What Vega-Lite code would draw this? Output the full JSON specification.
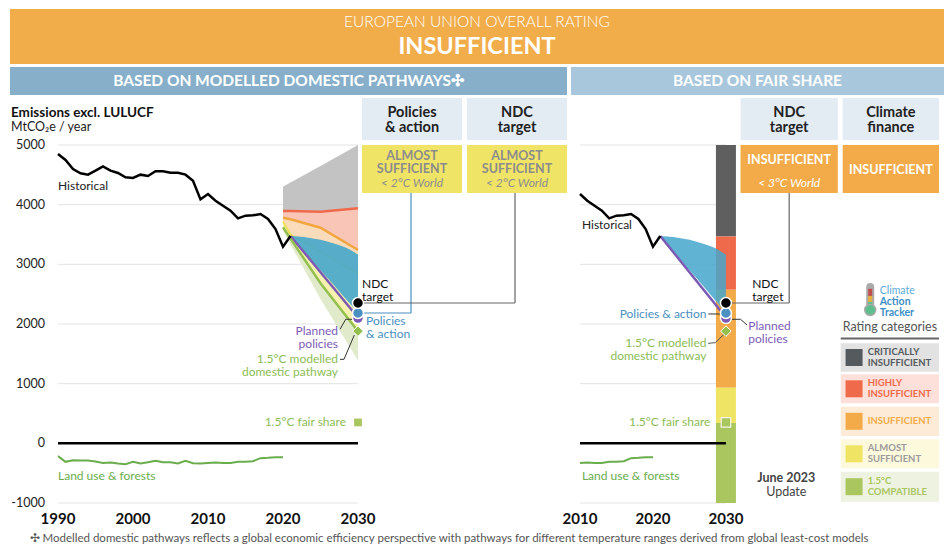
{
"$schema": "https://vega.github.io/schema/vega-lite/v6.json",
"padding": {"left": 10, "top": 9, "right": 0, "bottom": 0},
"background": "#ffffff",
"spacing": 3,
"config": {"view": {"stroke": null}, "font": "Lato"},
"datasets": {
"grid": [{"v": -1000}, {"v": 1000}, {"v": 2000}, {"v": 3000}, {"v": 4000}, {"v": 5000}],
"ylab": [{"v": -1000, "label": "-1000"}, {"v": 0, "label": "0"}, {"v": 1000, "label": "1000"}, {"v": 2000, "label": "2000"}, {"v": 3000, "label": "3000"}, {"v": 4000, "label": "4000"}, {"v": 5000, "label": "5000"}],
"xlab": [{"year": 1990}, {"year": 2000}, {"year": 2010}, {"year": 2020}, {"year": 2030}],
"hist": [{"year":1990,"v":4849},{"year":1991,"v":4749},{"year":1992,"v":4598},{"year":1993,"v":4525},{"year":1994,"v":4503},{"year":1995,"v":4570},{"year":1996,"v":4642},{"year":1997,"v":4570},{"year":1998,"v":4531},{"year":1999,"v":4458},{"year":2000,"v":4447},{"year":2001,"v":4503},{"year":2002,"v":4480},{"year":2003,"v":4559},{"year":2004,"v":4559},{"year":2005,"v":4536},{"year":2006,"v":4536},{"year":2007,"v":4503},{"year":2008,"v":4402},{"year":2009,"v":4089},{"year":2010,"v":4179},{"year":2011,"v":4067},{"year":2012,"v":3983},{"year":2013,"v":3899},{"year":2014,"v":3771},{"year":2015,"v":3816},{"year":2016,"v":3821},{"year":2017,"v":3844},{"year":2018,"v":3760},{"year":2019,"v":3592},{"year":2020,"v":3296},{"year":2021,"v":3475}],
"lulucf": [{"year":1990,"v":-215},{"year":1991,"v":-310},{"year":1992,"v":-283},{"year":1993,"v":-288},{"year":1994,"v":-288},{"year":1995,"v":-305},{"year":1996,"v":-328},{"year":1997,"v":-322},{"year":1998,"v":-339},{"year":1999,"v":-350},{"year":2000,"v":-310},{"year":2001,"v":-339},{"year":2002,"v":-316},{"year":2003,"v":-294},{"year":2004,"v":-316},{"year":2005,"v":-316},{"year":2006,"v":-339},{"year":2007,"v":-294},{"year":2008,"v":-333},{"year":2009,"v":-339},{"year":2010,"v":-328},{"year":2011,"v":-322},{"year":2012,"v":-328},{"year":2013,"v":-328},{"year":2014,"v":-310},{"year":2015,"v":-310},{"year":2016,"v":-299},{"year":2017,"v":-249},{"year":2018,"v":-243},{"year":2019,"v":-232},{"year":2020,"v":-232}],
"fan": [
{"year":2020,"ci":4300,"red":3894,"org":3782,"yel":3722,"grn":3621,"glo":3560},
{"year":2021,"ci":4370,"red":3892,"org":3755,"yel":3500,"grn":3430,"glo":3330},
{"year":2025,"ci":4650,"red":3882,"org":3614,"yel":3211,"grn":2682,"glo":2420},
{"year":2030,"ci":5000,"red":3939,"org":3240,"yel":2850,"grn":1880,"glo":1390}],
"pol": [
{"year":2021,"lo":3475,"hi":3475},
{"year":2023,"lo":3190,"hi":3455},
{"year":2025,"lo":2900,"hi":3410},
{"year":2027,"lo":2620,"hi":3340},
{"year":2029,"lo":2330,"hi":3240},
{"year":2030,"lo":2190,"hi":3160}],
"planned": [{"year":2021,"v":3475},{"year":2030,"v":2110}],
"bar": [
{"cat":"Critically insufficient","lo":3467,"hi":5000},
{"cat":"Highly insufficient","lo":2575,"hi":3467},
{"cat":"Insufficient","lo":933,"hi":2575},
{"cat":"Almost sufficient","lo":340,"hi":933},
{"cat":"1.5°C compatible","lo":-1000,"hi":340}]
},
"vconcat": [
{
"width": 934, "height": 55,
"view": {"fill": "#f2ad4b", "stroke": null},
"layer": [
{"data": {"values": [{"line": "a", "t": "EUROPEAN UNION OVERALL RATING"}]},
 "mark": {"type": "text", "color": "#ffffff", "fontSize": 15.5, "fontWeight": 300},
 "encoding": {"y": {"field": "line", "type": "nominal", "axis": null, "scale": {"type": "band", "domain": ["a", "b"], "paddingInner": 0.2, "paddingOuter": 0.2, "align": 0.25}}, "text": {"field": "t"}}},
{"data": {"values": [{"line": "b", "t": "INSUFFICIENT"}]},
 "mark": {"type": "text", "color": "#ffffff", "fontSize": 23.5, "fontWeight": "bold"},
 "encoding": {"y": {"field": "line", "type": "nominal", "axis": null}, "text": {"field": "t"}}}
]
},
{
"hconcat": [
{"width": 557, "height": 28, "view": {"fill": "#87afca", "stroke": null},
 "data": {"values": [{"t": "BASED ON MODELLED DOMESTIC PATHWAYS✣"}]},
 "mark": {"type": "text", "color": "#ffffff", "fontSize": 15.5, "fontWeight": "bold"},
 "encoding": {"text": {"field": "t"}}},
{"width": 373, "height": 28, "view": {"fill": "#a8c7dc", "stroke": null},
 "data": {"values": [{"t": "BASED ON FAIR SHARE"}]},
 "mark": {"type": "text", "color": "#ffffff", "fontSize": 15.5, "fontWeight": "bold"},
 "encoding": {"text": {"field": "t"}}}
],
"spacing": 4
},
{
"hconcat": [
{
"width": 557, "height": 405,
"layer": [
{"data": {"name": "grid"}, "mark": {"type": "rule", "color": "#e3e3e3", "strokeWidth": 1},
 "encoding": {
  "x": {"datum": 1990, "type": "quantitative", "scale": {"domain": [1983.6, 2057.8667], "nice": false, "zero": false}, "axis": null},
  "x2": {"datum": 2030},
  "y": {"field": "v", "type": "quantitative", "scale": {"domain": [-1000, 5787.7], "nice": false, "zero": false}, "axis": null}}},
{"data": {"name": "ylab"}, "mark": {"type": "text", "align": "right", "fontSize": 12.5, "color": "#222222"},
 "encoding": {"x": {"datum": 1988.267, "type": "quantitative", "axis": null}, "y": {"field": "v", "type": "quantitative", "axis": null}, "text": {"field": "label"}}},
{"data": {"name": "xlab"}, "mark": {"type": "text", "fontSize": 15, "fontWeight": "bold", "color": "#111111"},
 "encoding": {"x": {"field": "year", "type": "quantitative", "axis": null}, "y": {"datum": -1268.2, "type": "quantitative", "axis": null}, "text": {"field": "year", "type": "quantitative", "format": "d"}}},
{"data": {"name": "fan"}, "mark": {"type": "area", "color": "#c3c3c3", "opacity": 1},
 "encoding": {"x": {"field": "year", "type": "quantitative", "axis": null}, "y": {"field": "red", "type": "quantitative", "axis": null}, "y2": {"field": "ci"}}},
{"data": {"name": "fan"}, "mark": {"type": "area", "color": "#f9c5b7", "opacity": 1},
 "encoding": {"x": {"field": "year", "type": "quantitative", "axis": null}, "y": {"field": "org", "type": "quantitative", "axis": null}, "y2": {"field": "red"}}},
{"data": {"name": "fan"}, "mark": {"type": "area", "color": "#fbdcba", "opacity": 1},
 "encoding": {"x": {"field": "year", "type": "quantitative", "axis": null}, "y": {"field": "yel", "type": "quantitative", "axis": null}, "y2": {"field": "org"}}},
{"data": {"name": "fan"}, "mark": {"type": "area", "color": "#f8f2b0", "opacity": 1},
 "encoding": {"x": {"field": "year", "type": "quantitative", "axis": null}, "y": {"field": "grn", "type": "quantitative", "axis": null}, "y2": {"field": "yel"}}},
{"data": {"name": "fan"}, "mark": {"type": "area", "color": "#e1ebcc", "opacity": 1},
 "encoding": {"x": {"field": "year", "type": "quantitative", "axis": null}, "y": {"field": "glo", "type": "quantitative", "axis": null}, "y2": {"field": "grn"}}},
{"data": {"name": "fan"}, "mark": {"type": "line", "color": "#ef6a4b", "strokeWidth": 2.5},
 "encoding": {"x": {"field": "year", "type": "quantitative", "axis": null}, "y": {"field": "red", "type": "quantitative", "axis": null}}},
{"data": {"name": "fan"}, "mark": {"type": "line", "color": "#f2a640", "strokeWidth": 2.5},
 "encoding": {"x": {"field": "year", "type": "quantitative", "axis": null}, "y": {"field": "org", "type": "quantitative", "axis": null}}},
{"data": {"name": "fan"}, "mark": {"type": "line", "color": "#efe05a", "strokeWidth": 2},
 "encoding": {"x": {"field": "year", "type": "quantitative", "axis": null}, "y": {"field": "yel", "type": "quantitative", "axis": null}}},
{"data": {"name": "pol"}, "mark": {"type": "area", "color": "#45a6cb", "opacity": 0.9, "interpolate": "monotone"},
 "encoding": {"x": {"field": "year", "type": "quantitative", "axis": null}, "y": {"field": "lo", "type": "quantitative", "axis": null}, "y2": {"field": "hi"}}},
{"data": {"name": "planned"}, "mark": {"type": "line", "color": "#7c5ab4", "strokeWidth": 2.5},
 "encoding": {"x": {"field": "year", "type": "quantitative", "axis": null}, "y": {"field": "v", "type": "quantitative", "axis": null}}},
{"data": {"name": "fan"}, "mark": {"type": "line", "color": "#93bf4e", "strokeWidth": 2.5},
 "encoding": {"x": {"field": "year", "type": "quantitative", "axis": null}, "y": {"field": "grn", "type": "quantitative", "axis": null}}},
{"data": {"name": "hist"}, "mark": {"type": "line", "color": "#000000", "strokeWidth": 2.5},
 "encoding": {"x": {"field": "year", "type": "quantitative", "axis": null}, "y": {"field": "v", "type": "quantitative", "axis": null}}},
{"data": {"name": "lulucf"}, "mark": {"type": "line", "color": "#6aad4c", "strokeWidth": 2},
 "encoding": {"x": {"field": "year", "type": "quantitative", "axis": null}, "y": {"field": "v", "type": "quantitative", "axis": null}}},
{"data": {"values": [{}]}, "mark": {"type": "rule", "color": "#000000", "strokeWidth": 2.5},
 "encoding": {"x": {"datum": 1990, "type": "quantitative", "axis": null}, "x2": {"datum": 2030}, "y": {"datum": 0, "type": "quantitative", "axis": null}}},
{"data": {"values": [{}]}, "mark": {"type": "rule", "color": "#4a90c0", "strokeWidth": 1.2},
 "encoding": {"x": {"datum": 2030, "type": "quantitative", "axis": null}, "x2": {"datum": 2037.067}, "y": {"datum": 2184, "type": "quantitative", "axis": null}}},
{"data": {"values": [{}]}, "mark": {"type": "rule", "color": "#4a90c0", "strokeWidth": 1.2},
 "encoding": {"x": {"datum": 2037.067, "type": "quantitative", "axis": null}, "y": {"datum": 2184, "type": "quantitative", "axis": null}, "y2": {"datum": 4195.5}}},
{"data": {"values": [{}]}, "mark": {"type": "rule", "color": "#666666", "strokeWidth": 1.2},
 "encoding": {"x": {"datum": 2030, "type": "quantitative", "axis": null}, "x2": {"datum": 2050.933}, "y": {"datum": 2352, "type": "quantitative", "axis": null}}},
{"data": {"values": [{}]}, "mark": {"type": "rule", "color": "#666666", "strokeWidth": 1.2},
 "encoding": {"x": {"datum": 2050.933, "type": "quantitative", "axis": null}, "y": {"datum": 2352, "type": "quantitative", "axis": null}, "y2": {"datum": 4195.5}}},
{"data": {"values": [{}]}, "mark": {"type": "rule", "color": "#333333", "strokeWidth": 1},
 "encoding": {"x": {"datum": 2027.6, "type": "quantitative", "axis": null}, "x2": {"datum": 2028.36}, "y": {"datum": 1911, "type": "quantitative", "axis": null}, "y2": {"datum": 2079}}},
{"data": {"values": [{}]}, "mark": {"type": "rule", "color": "#333333", "strokeWidth": 1},
 "encoding": {"x": {"datum": 2028.36, "type": "quantitative", "axis": null}, "x2": {"datum": 2029.24}, "y": {"datum": 2079, "type": "quantitative", "axis": null}}},
{"data": {"values": [{}]}, "mark": {"type": "rule", "color": "#333333", "strokeWidth": 1},
 "encoding": {"x": {"datum": 2027.6, "type": "quantitative", "axis": null}, "x2": {"datum": 2028.133}, "y": {"datum": 1408, "type": "quantitative", "axis": null}}},
{"data": {"values": [{}]}, "mark": {"type": "rule", "color": "#333333", "strokeWidth": 1},
 "encoding": {"x": {"datum": 2028.133, "type": "quantitative", "axis": null}, "x2": {"datum": 2029.507}, "y": {"datum": 1408, "type": "quantitative", "axis": null}, "y2": {"datum": 1815}}},
{"data": {"values": [{"year": 2030, "v": 2100}]}, "mark": {"type": "point", "shape": "circle", "filled": true, "size": 120, "color": "#7c5ab4", "stroke": "#ffffff", "strokeWidth": 1.5, "opacity": 1},
 "encoding": {"x": {"field": "year", "type": "quantitative", "axis": null}, "y": {"field": "v", "type": "quantitative", "axis": null}}},
{"data": {"values": [{"year": 2030, "v": 2184}]}, "mark": {"type": "point", "shape": "circle", "filled": true, "size": 120, "color": "#4a90c0", "stroke": "#ffffff", "strokeWidth": 1.5, "opacity": 1},
 "encoding": {"x": {"field": "year", "type": "quantitative", "axis": null}, "y": {"field": "v", "type": "quantitative", "axis": null}}},
{"data": {"values": [{"year": 2030, "v": 2352}]}, "mark": {"type": "point", "shape": "circle", "filled": true, "size": 120, "color": "#000000", "stroke": "#ffffff", "strokeWidth": 1.5, "opacity": 1},
 "encoding": {"x": {"field": "year", "type": "quantitative", "axis": null}, "y": {"field": "v", "type": "quantitative", "axis": null}}},
{"data": {"values": [{"year": 2030, "v": 1880}]}, "mark": {"type": "point", "shape": "diamond", "filled": true, "size": 110, "color": "#93bf4e", "stroke": "#ffffff", "strokeWidth": 1, "opacity": 1},
 "encoding": {"x": {"field": "year", "type": "quantitative", "axis": null}, "y": {"field": "v", "type": "quantitative", "axis": null}}},
{"data": {"values": [{"year": 2030, "v": 350}]}, "mark": {"type": "point", "shape": "square", "filled": true, "size": 60, "color": "#a9c65f", "opacity": 1},
 "encoding": {"x": {"field": "year", "type": "quantitative", "axis": null}, "y": {"field": "v", "type": "quantitative", "axis": null}}},
{"data": {"values": [{}]}, "mark": {"type": "rect", "color": "#e3ebf3"},
 "encoding": {"x": {"datum": 2030.533, "type": "quantitative", "axis": null}, "x2": {"datum": 2043.867}, "y": {"datum": 5787.7, "type": "quantitative", "axis": null}, "y2": {"datum": 5083.8}}},
{"data": {"values": [{}]}, "mark": {"type": "rect", "color": "#e3ebf3"},
 "encoding": {"x": {"datum": 2044.533, "type": "quantitative", "axis": null}, "x2": {"datum": 2057.867}, "y": {"datum": 5787.7, "type": "quantitative", "axis": null}, "y2": {"datum": 5083.8}}},
{"data": {"values": [{"t": "Policies\n& action"}]}, "mark": {"type": "text", "fontSize": 14.5, "fontWeight": "bold", "color": "#222222", "lineBreak": "\n", "lineHeight": 15},
 "encoding": {"x": {"datum": 2037.2, "type": "quantitative", "axis": null}, "y": {"datum": 5536.3, "type": "quantitative", "axis": null}, "text": {"field": "t"}}},
{"data": {"values": [{"t": "NDC\ntarget"}]}, "mark": {"type": "text", "fontSize": 14.5, "fontWeight": "bold", "color": "#222222", "lineBreak": "\n", "lineHeight": 15},
 "encoding": {"x": {"datum": 2051.2, "type": "quantitative", "axis": null}, "y": {"datum": 5536.3, "type": "quantitative", "axis": null}, "text": {"field": "t"}}},
{"data": {"values": [{}]}, "mark": {"type": "rect", "color": "#f0e466"},
 "encoding": {"x": {"datum": 2030.533, "type": "quantitative", "axis": null}, "x2": {"datum": 2043.867}, "y": {"datum": 5000, "type": "quantitative", "axis": null}, "y2": {"datum": 4195.5}}},
{"data": {"values": [{}]}, "mark": {"type": "rect", "color": "#f0e466"},
 "encoding": {"x": {"datum": 2044.533, "type": "quantitative", "axis": null}, "x2": {"datum": 2057.867}, "y": {"datum": 5000, "type": "quantitative", "axis": null}, "y2": {"datum": 4195.5}}},
{"data": {"values": [{"t": "ALMOST\nSUFFICIENT"}]}, "mark": {"type": "text", "fontSize": 12.5, "fontWeight": "bold", "color": "#8c8c8c", "lineBreak": "\n", "lineHeight": 13},
 "encoding": {"x": {"datum": 2037.2, "type": "quantitative", "axis": null}, "y": {"datum": 4815.6, "type": "quantitative", "axis": null}, "text": {"field": "t"}}},
{"data": {"values": [{"t": "ALMOST\nSUFFICIENT"}]}, "mark": {"type": "text", "fontSize": 12.5, "fontWeight": "bold", "color": "#8c8c8c", "lineBreak": "\n", "lineHeight": 13},
 "encoding": {"x": {"datum": 2051.2, "type": "quantitative", "axis": null}, "y": {"datum": 4815.6, "type": "quantitative", "axis": null}, "text": {"field": "t"}}},
{"data": {"values": [{"t": "< 2°C World"}]}, "mark": {"type": "text", "fontSize": 12, "fontStyle": "italic", "color": "#8c8c8c"},
 "encoding": {"x": {"datum": 2037.2, "type": "quantitative", "axis": null}, "y": {"datum": 4363.1, "type": "quantitative", "axis": null}, "text": {"field": "t"}}},
{"data": {"values": [{"t": "< 2°C World"}]}, "mark": {"type": "text", "fontSize": 12, "fontStyle": "italic", "color": "#8c8c8c"},
 "encoding": {"x": {"datum": 2051.2, "type": "quantitative", "axis": null}, "y": {"datum": 4363.1, "type": "quantitative", "axis": null}, "text": {"field": "t"}}},
{"data": {"values": [{"t": "Emissions excl. LULUCF"}]}, "mark": {"type": "text", "align": "left", "fontSize": 13.5, "fontWeight": "bold", "color": "#111111"},
 "encoding": {"x": {"datum": 1983.733, "type": "quantitative", "axis": null}, "y": {"datum": 5536.3, "type": "quantitative", "axis": null}, "text": {"field": "t"}}},
{"data": {"values": [{"t": "MtCO₂e / year"}]}, "mark": {"type": "text", "align": "left", "fontSize": 12.5, "color": "#222222"},
 "encoding": {"x": {"datum": 1983.733, "type": "quantitative", "axis": null}, "y": {"datum": 5301.7, "type": "quantitative", "axis": null}, "text": {"field": "t"}}},
{"data": {"values": [{"t": "Historical"}]}, "mark": {"type": "text", "align": "left", "fontSize": 12, "color": "#222222"},
 "encoding": {"x": {"datum": 1990, "type": "quantitative", "axis": null}, "y": {"datum": 4313.9, "type": "quantitative", "axis": null}, "text": {"field": "t"}}},
{"data": {"values": [{"t": "NDC\ntarget"}]}, "mark": {"type": "text", "align": "left", "fontSize": 12, "color": "#111111", "lineBreak": "\n", "lineHeight": 13},
 "encoding": {"x": {"datum": 2030.533, "type": "quantitative", "axis": null}, "y": {"datum": 2670.4, "type": "quantitative", "axis": null}, "text": {"field": "t"}}},
{"data": {"values": [{"t": "Policies\n& action"}]}, "mark": {"type": "text", "align": "left", "fontSize": 12, "color": "#4a90c0", "lineBreak": "\n", "lineHeight": 13},
 "encoding": {"x": {"datum": 2031.067, "type": "quantitative", "axis": null}, "y": {"datum": 2050.3, "type": "quantitative", "axis": null}, "text": {"field": "t"}}},
{"data": {"values": [{"t": "Planned\npolicies"}]}, "mark": {"type": "text", "align": "right", "fontSize": 12, "color": "#7d5bb5", "lineBreak": "\n", "lineHeight": 13},
 "encoding": {"x": {"datum": 2027.333, "type": "quantitative", "axis": null}, "y": {"datum": 1882.7, "type": "quantitative", "axis": null}, "text": {"field": "t"}}},
{"data": {"values": [{"t": "1.5°C modelled\ndomestic pathway"}]}, "mark": {"type": "text", "align": "right", "fontSize": 12, "color": "#8cbd55", "lineBreak": "\n", "lineHeight": 13},
 "encoding": {"x": {"datum": 2027.333, "type": "quantitative", "axis": null}, "y": {"datum": 1413.4, "type": "quantitative", "axis": null}, "text": {"field": "t"}}},
{"data": {"values": [{"t": "1.5°C fair share"}]}, "mark": {"type": "text", "align": "right", "fontSize": 12, "color": "#8cbd55"},
 "encoding": {"x": {"datum": 2028.4, "type": "quantitative", "axis": null}, "y": {"datum": 357.5, "type": "quantitative", "axis": null}, "text": {"field": "t"}}},
{"data": {"values": [{"t": "Land use & forests"}]}, "mark": {"type": "text", "align": "left", "fontSize": 12, "color": "#6aad4c"},
 "encoding": {"x": {"datum": 1990, "type": "quantitative", "axis": null}, "y": {"datum": -547.5, "type": "quantitative", "axis": null}, "text": {"field": "t"}}}
]
},
{
"width": 369, "height": 405,
"layer": [
{"data": {"name": "grid"}, "mark": {"type": "rule", "color": "#e3e3e3", "strokeWidth": 1},
 "encoding": {
  "x": {"datum": 2010, "type": "quantitative", "scale": {"domain": [2010, 2059.2], "nice": false, "zero": false}, "axis": null},
  "x2": {"datum": 2030},
  "y": {"field": "v", "type": "quantitative", "scale": {"domain": [-1000, 5787.7], "nice": false, "zero": false}, "axis": null}}},
{"data": {"name": "xlab"}, "transform": [{"filter": "datum.year >= 2010"}], "mark": {"type": "text", "fontSize": 15, "fontWeight": "bold", "color": "#111111"},
 "encoding": {"x": {"field": "year", "type": "quantitative", "axis": null}, "y": {"datum": -1268.2, "type": "quantitative", "axis": null}, "text": {"field": "year", "type": "quantitative", "format": "d"}}},
{"data": {"name": "bar"}, "mark": {"type": "bar", "size": 20},
 "encoding": {"x": {"datum": 2030, "type": "quantitative", "axis": null}, "y": {"field": "lo", "type": "quantitative", "axis": null}, "y2": {"field": "hi"},
  "color": {"field": "cat", "type": "nominal", "legend": null, "scale": {"domain": ["Critically insufficient", "Highly insufficient", "Insufficient", "Almost sufficient", "1.5°C compatible"], "range": ["#5f5f5f", "#ef6a4b", "#f2ab48", "#f0e464", "#a9c65f"]}}}},
{"data": {"name": "pol"}, "mark": {"type": "area", "color": "#45a6cb", "opacity": 0.85, "interpolate": "monotone"},
 "encoding": {"x": {"field": "year", "type": "quantitative", "axis": null}, "y": {"field": "lo", "type": "quantitative", "axis": null}, "y2": {"field": "hi"}}},
{"data": {"name": "planned"}, "mark": {"type": "line", "color": "#7c5ab4", "strokeWidth": 2.5},
 "encoding": {"x": {"field": "year", "type": "quantitative", "axis": null}, "y": {"field": "v", "type": "quantitative", "axis": null}}},
{"data": {"name": "hist"}, "transform": [{"filter": "datum.year >= 2010"}], "mark": {"type": "line", "color": "#000000", "strokeWidth": 2.5},
 "encoding": {"x": {"field": "year", "type": "quantitative", "axis": null}, "y": {"field": "v", "type": "quantitative", "axis": null}}},
{"data": {"name": "lulucf"}, "transform": [{"filter": "datum.year >= 2010"}], "mark": {"type": "line", "color": "#6aad4c", "strokeWidth": 2},
 "encoding": {"x": {"field": "year", "type": "quantitative", "axis": null}, "y": {"field": "v", "type": "quantitative", "axis": null}}},
{"data": {"values": [{}]}, "mark": {"type": "rule", "color": "#000000", "strokeWidth": 2.5},
 "encoding": {"x": {"datum": 2010, "type": "quantitative", "axis": null}, "x2": {"datum": 2030}, "y": {"datum": 0, "type": "quantitative", "axis": null}}},
{"data": {"values": [{}]}, "mark": {"type": "rule", "color": "#666666", "strokeWidth": 1.2},
 "encoding": {"x": {"datum": 2030, "type": "quantitative", "axis": null}, "x2": {"datum": 2038.667}, "y": {"datum": 2352, "type": "quantitative", "axis": null}}},
{"data": {"values": [{}]}, "mark": {"type": "rule", "color": "#666666", "strokeWidth": 1.2},
 "encoding": {"x": {"datum": 2038.667, "type": "quantitative", "axis": null}, "y": {"datum": 2352, "type": "quantitative", "axis": null}, "y2": {"datum": 4195.5}}},
{"data": {"values": [{}]}, "mark": {"type": "rule", "color": "#333333", "strokeWidth": 1},
 "encoding": {"x": {"datum": 2027.6, "type": "quantitative", "axis": null}, "x2": {"datum": 2029.333}, "y": {"datum": 2168, "type": "quantitative", "axis": null}}},
{"data": {"values": [{}]}, "mark": {"type": "rule", "color": "#333333", "strokeWidth": 1},
 "encoding": {"x": {"datum": 2030.44, "type": "quantitative", "axis": null}, "x2": {"datum": 2032}, "y": {"datum": 2079, "type": "quantitative", "axis": null}}},
{"data": {"values": [{}]}, "mark": {"type": "rule", "color": "#333333", "strokeWidth": 1},
 "encoding": {"x": {"datum": 2032, "type": "quantitative", "axis": null}, "x2": {"datum": 2032.893}, "y": {"datum": 2079, "type": "quantitative", "axis": null}, "y2": {"datum": 1983}}},
{"data": {"values": [{}]}, "mark": {"type": "rule", "color": "#555555", "strokeWidth": 1},
 "encoding": {"x": {"datum": 2027.56, "type": "quantitative", "axis": null}, "x2": {"datum": 2028.533}, "y": {"datum": 1676, "type": "quantitative", "axis": null}, "y2": {"datum": 1687}}},
{"data": {"values": [{}]}, "mark": {"type": "rule", "color": "#555555", "strokeWidth": 1},
 "encoding": {"x": {"datum": 2028.533, "type": "quantitative", "axis": null}, "x2": {"datum": 2029.773}, "y": {"datum": 1687, "type": "quantitative", "axis": null}, "y2": {"datum": 1832}}},
{"data": {"values": [{"year": 2030, "v": 2100}]}, "mark": {"type": "point", "shape": "circle", "filled": true, "size": 120, "color": "#7c5ab4", "stroke": "#ffffff", "strokeWidth": 1.5, "opacity": 1},
 "encoding": {"x": {"field": "year", "type": "quantitative", "axis": null}, "y": {"field": "v", "type": "quantitative", "axis": null}}},
{"data": {"values": [{"year": 2030, "v": 2184}]}, "mark": {"type": "point", "shape": "circle", "filled": true, "size": 120, "color": "#4a90c0", "stroke": "#ffffff", "strokeWidth": 1.5, "opacity": 1},
 "encoding": {"x": {"field": "year", "type": "quantitative", "axis": null}, "y": {"field": "v", "type": "quantitative", "axis": null}}},
{"data": {"values": [{"year": 2030, "v": 2352}]}, "mark": {"type": "point", "shape": "circle", "filled": true, "size": 120, "color": "#000000", "stroke": "#ffffff", "strokeWidth": 1.5, "opacity": 1},
 "encoding": {"x": {"field": "year", "type": "quantitative", "axis": null}, "y": {"field": "v", "type": "quantitative", "axis": null}}},
{"data": {"values": [{"year": 2030, "v": 1880}]}, "mark": {"type": "point", "shape": "diamond", "filled": true, "size": 110, "color": "#93bf4e", "stroke": "#ffffff", "strokeWidth": 1, "opacity": 1},
 "encoding": {"x": {"field": "year", "type": "quantitative", "axis": null}, "y": {"field": "v", "type": "quantitative", "axis": null}}},
{"data": {"values": [{"year": 2030, "v": 350}]}, "mark": {"type": "point", "shape": "square", "filled": true, "size": 90, "color": "#a9c65f", "stroke": "#f4f4e8", "strokeWidth": 1.2, "opacity": 1},
 "encoding": {"x": {"field": "year", "type": "quantitative", "axis": null}, "y": {"field": "v", "type": "quantitative", "axis": null}}},
{"data": {"values": [{}]}, "mark": {"type": "rect", "color": "#e3ebf3"},
 "encoding": {"x": {"datum": 2032, "type": "quantitative", "axis": null}, "x2": {"datum": 2045.333}, "y": {"datum": 5787.7, "type": "quantitative", "axis": null}, "y2": {"datum": 5083.8}}},
{"data": {"values": [{}]}, "mark": {"type": "rect", "color": "#e3ebf3"},
 "encoding": {"x": {"datum": 2046, "type": "quantitative", "axis": null}, "x2": {"datum": 2059.2}, "y": {"datum": 5787.7, "type": "quantitative", "axis": null}, "y2": {"datum": 5083.8}}},
{"data": {"values": [{"t": "NDC\ntarget"}]}, "mark": {"type": "text", "fontSize": 14.5, "fontWeight": "bold", "color": "#222222", "lineBreak": "\n", "lineHeight": 15},
 "encoding": {"x": {"datum": 2038.667, "type": "quantitative", "axis": null}, "y": {"datum": 5536.3, "type": "quantitative", "axis": null}, "text": {"field": "t"}}},
{"data": {"values": [{"t": "Climate\nfinance"}]}, "mark": {"type": "text", "fontSize": 14.5, "fontWeight": "bold", "color": "#222222", "lineBreak": "\n", "lineHeight": 15},
 "encoding": {"x": {"datum": 2052.6, "type": "quantitative", "axis": null}, "y": {"datum": 5536.3, "type": "quantitative", "axis": null}, "text": {"field": "t"}}},
{"data": {"values": [{}]}, "mark": {"type": "rect", "color": "#f2ab48"},
 "encoding": {"x": {"datum": 2032, "type": "quantitative", "axis": null}, "x2": {"datum": 2045.333}, "y": {"datum": 5000, "type": "quantitative", "axis": null}, "y2": {"datum": 4195.5}}},
{"data": {"values": [{}]}, "mark": {"type": "rect", "color": "#f2ab48"},
 "encoding": {"x": {"datum": 2046, "type": "quantitative", "axis": null}, "x2": {"datum": 2059.2}, "y": {"datum": 5000, "type": "quantitative", "axis": null}, "y2": {"datum": 4195.5}}},
{"data": {"values": [{"t": "INSUFFICIENT"}]}, "mark": {"type": "text", "fontSize": 12.5, "fontWeight": "bold", "color": "#ffffff"},
 "encoding": {"x": {"datum": 2038.667, "type": "quantitative", "axis": null}, "y": {"datum": 4748.6, "type": "quantitative", "axis": null}, "text": {"field": "t"}}},
{"data": {"values": [{"t": "< 3°C World"}]}, "mark": {"type": "text", "fontSize": 12, "fontStyle": "italic", "color": "#ffffff"},
 "encoding": {"x": {"datum": 2038.667, "type": "quantitative", "axis": null}, "y": {"datum": 4363.1, "type": "quantitative", "axis": null}, "text": {"field": "t"}}},
{"data": {"values": [{"t": "INSUFFICIENT"}]}, "mark": {"type": "text", "fontSize": 12.5, "fontWeight": "bold", "color": "#ffffff"},
 "encoding": {"x": {"datum": 2052.6, "type": "quantitative", "axis": null}, "y": {"datum": 4581, "type": "quantitative", "axis": null}, "text": {"field": "t"}}},
{"data": {"values": [{"t": "Historical"}]}, "mark": {"type": "text", "align": "left", "fontSize": 12, "color": "#222222"},
 "encoding": {"x": {"datum": 2010.267, "type": "quantitative", "axis": null}, "y": {"datum": 3659.2, "type": "quantitative", "axis": null}, "text": {"field": "t"}}},
{"data": {"values": [{"t": "NDC\ntarget"}]}, "mark": {"type": "text", "align": "left", "fontSize": 12, "color": "#111111", "lineBreak": "\n", "lineHeight": 13},
 "encoding": {"x": {"datum": 2033.6, "type": "quantitative", "axis": null}, "y": {"datum": 2670.4, "type": "quantitative", "axis": null}, "text": {"field": "t"}}},
{"data": {"values": [{"t": "Policies & action"}]}, "mark": {"type": "text", "align": "right", "fontSize": 12, "color": "#4a90c0"},
 "encoding": {"x": {"datum": 2027.333, "type": "quantitative", "axis": null}, "y": {"datum": 2167.6, "type": "quantitative", "axis": null}, "text": {"field": "t"}}},
{"data": {"values": [{"t": "Planned\npolicies"}]}, "mark": {"type": "text", "align": "left", "fontSize": 12, "color": "#7d5bb5", "lineBreak": "\n", "lineHeight": 13},
 "encoding": {"x": {"datum": 2033.067, "type": "quantitative", "axis": null}, "y": {"datum": 1966.5, "type": "quantitative", "axis": null}, "text": {"field": "t"}}},
{"data": {"values": [{"t": "1.5°C modelled\ndomestic pathway"}]}, "mark": {"type": "text", "align": "right", "fontSize": 12, "color": "#8cbd55", "lineBreak": "\n", "lineHeight": 13},
 "encoding": {"x": {"datum": 2027.333, "type": "quantitative", "axis": null}, "y": {"datum": 1681.6, "type": "quantitative", "axis": null}, "text": {"field": "t"}}},
{"data": {"values": [{"t": "1.5°C fair share"}]}, "mark": {"type": "text", "align": "right", "fontSize": 12, "color": "#8cbd55"},
 "encoding": {"x": {"datum": 2027.867, "type": "quantitative", "axis": null}, "y": {"datum": 357.5, "type": "quantitative", "axis": null}, "text": {"field": "t"}}},
{"data": {"values": [{"t": "Land use & forests"}]}, "mark": {"type": "text", "align": "left", "fontSize": 12, "color": "#6aad4c"},
 "encoding": {"x": {"datum": 2010.267, "type": "quantitative", "axis": null}, "y": {"datum": -547.5, "type": "quantitative", "axis": null}, "text": {"field": "t"}}},
{"data": {"values": [{"t": "June 2023"}]}, "mark": {"type": "text", "fontSize": 12.5, "fontWeight": "bold", "color": "#444444"},
 "encoding": {"x": {"datum": 2038.267, "type": "quantitative", "axis": null}, "y": {"datum": -581, "type": "quantitative", "axis": null}, "text": {"field": "t"}}},
{"data": {"values": [{"t": "Update"}]}, "mark": {"type": "text", "fontSize": 12.5, "color": "#444444"},
 "encoding": {"x": {"datum": 2038.267, "type": "quantitative", "axis": null}, "y": {"datum": -815.6, "type": "quantitative", "axis": null}, "text": {"field": "t"}}},
{"data": {"values": [{"t": "Rating categories"}]}, "mark": {"type": "text", "align": "left", "fontSize": 12.5, "color": "#555555"},
 "encoding": {"x": {"datum": 2046, "type": "quantitative", "axis": null}, "y": {"datum": 1954.8, "type": "quantitative", "axis": null}, "text": {"field": "t"}}},
{"data": {"values": [{}]}, "mark": {"type": "rule", "color": "#666666", "strokeWidth": 2},
 "encoding": {"x": {"datum": 2045.733, "type": "quantitative", "axis": null}, "x2": {"datum": 2059.2}, "y": {"datum": 1757, "type": "quantitative", "axis": null}}},
{"data": {"values": [{}]}, "mark": {"type": "rect", "color": "#e2e2e2"},
 "encoding": {"x": {"datum": 2045.733, "type": "quantitative", "axis": null}, "x2": {"datum": 2059.2}, "y": {"datum": 1676.5, "type": "quantitative", "axis": null}, "y2": {"datum": 1200.6}}},
{"data": {"values": [{}]}, "mark": {"type": "rect", "color": "#fce0d9"},
 "encoding": {"x": {"datum": 2045.733, "type": "quantitative", "axis": null}, "x2": {"datum": 2059.2}, "y": {"datum": 1157, "type": "quantitative", "axis": null}, "y2": {"datum": 671}}},
{"data": {"values": [{}]}, "mark": {"type": "rect", "color": "#fdebd7"},
 "encoding": {"x": {"datum": 2045.733, "type": "quantitative", "axis": null}, "x2": {"datum": 2059.2}, "y": {"datum": 614, "type": "quantitative", "axis": null}, "y2": {"datum": 122.9}}},
{"data": {"values": [{}]}, "mark": {"type": "rect", "color": "#fcf9dd"},
 "encoding": {"x": {"datum": 2045.733, "type": "quantitative", "axis": null}, "x2": {"datum": 2059.2}, "y": {"datum": 67.6, "type": "quantitative", "axis": null}, "y2": {"datum": -418.4}}},
{"data": {"values": [{}]}, "mark": {"type": "rect", "color": "#eef3e1"},
 "encoding": {"x": {"datum": 2045.733, "type": "quantitative", "axis": null}, "x2": {"datum": 2059.2}, "y": {"datum": -475.4, "type": "quantitative", "axis": null}, "y2": {"datum": -978.2}}},
{"data": {"values": [{}]}, "mark": {"type": "point", "shape": "square", "filled": true, "size": 289, "color": "#555a5e", "opacity": 1},
 "encoding": {"x": {"datum": 2047.56, "type": "quantitative", "axis": null}, "y": {"datum": 1438.6, "type": "quantitative", "axis": null}}},
{"data": {"values": [{}]}, "mark": {"type": "point", "shape": "square", "filled": true, "size": 289, "color": "#ef6a4b", "opacity": 1},
 "encoding": {"x": {"datum": 2047.56, "type": "quantitative", "axis": null}, "y": {"datum": 914, "type": "quantitative", "axis": null}}},
{"data": {"values": [{}]}, "mark": {"type": "point", "shape": "square", "filled": true, "size": 289, "color": "#f2ab48", "opacity": 1},
 "encoding": {"x": {"datum": 2047.56, "type": "quantitative", "axis": null}, "y": {"datum": 369.3, "type": "quantitative", "axis": null}}},
{"data": {"values": [{}]}, "mark": {"type": "point", "shape": "square", "filled": true, "size": 289, "color": "#f0e464", "opacity": 1},
 "encoding": {"x": {"datum": 2047.56, "type": "quantitative", "axis": null}, "y": {"datum": -175.4, "type": "quantitative", "axis": null}}},
{"data": {"values": [{}]}, "mark": {"type": "point", "shape": "square", "filled": true, "size": 289, "color": "#a9c65f", "opacity": 1},
 "encoding": {"x": {"datum": 2047.56, "type": "quantitative", "axis": null}, "y": {"datum": -726.8, "type": "quantitative", "axis": null}}},
{"data": {"values": [{"t": "CRITICALLY\nINSUFFICIENT"}]}, "mark": {"type": "text", "align": "left", "fontSize": 9.5, "fontWeight": "bold", "color": "#555a5e", "lineBreak": "\n", "lineHeight": 11},
 "encoding": {"x": {"datum": 2049.427, "type": "quantitative", "axis": null}, "y": {"datum": 1530.7, "type": "quantitative", "axis": null}, "text": {"field": "t"}}},
{"data": {"values": [{"t": "HIGHLY\nINSUFFICIENT"}]}, "mark": {"type": "text", "align": "left", "fontSize": 9.5, "fontWeight": "bold", "color": "#ef6a4b", "lineBreak": "\n", "lineHeight": 11},
 "encoding": {"x": {"datum": 2049.427, "type": "quantitative", "axis": null}, "y": {"datum": 1006.1, "type": "quantitative", "axis": null}, "text": {"field": "t"}}},
{"data": {"values": [{"t": "INSUFFICIENT"}]}, "mark": {"type": "text", "align": "left", "fontSize": 9.5, "fontWeight": "bold", "color": "#f2ab48"},
 "encoding": {"x": {"datum": 2049.427, "type": "quantitative", "axis": null}, "y": {"datum": 369.3, "type": "quantitative", "axis": null}, "text": {"field": "t"}}},
{"data": {"values": [{"t": "ALMOST\nSUFFICIENT"}]}, "mark": {"type": "text", "align": "left", "fontSize": 9.5, "fontWeight": "bold", "color": "#9b9b9b", "lineBreak": "\n", "lineHeight": 11},
 "encoding": {"x": {"datum": 2049.427, "type": "quantitative", "axis": null}, "y": {"datum": -83.2, "type": "quantitative", "axis": null}, "text": {"field": "t"}}},
{"data": {"values": [{"t": "1.5°C\nCOMPATIBLE"}]}, "mark": {"type": "text", "align": "left", "fontSize": 9.5, "fontWeight": "bold", "color": "#a9c65f", "lineBreak": "\n", "lineHeight": 11},
 "encoding": {"x": {"datum": 2049.427, "type": "quantitative", "axis": null}, "y": {"datum": -634.6, "type": "quantitative", "axis": null}, "text": {"field": "t"}}},
{"data": {"values": [{}]}, "mark": {"type": "rule", "color": "#aaaaaa", "strokeWidth": 8, "strokeCap": "round"},
 "encoding": {"x": {"datum": 2049.773, "type": "quantitative", "axis": null}, "y": {"datum": 2620, "type": "quantitative", "axis": null}, "y2": {"datum": 2260}}},
{"data": {"values": [{}]}, "mark": {"type": "rule", "color": "#c0504d", "strokeWidth": 4},
 "encoding": {"x": {"datum": 2049.773, "type": "quantitative", "axis": null}, "y": {"datum": 2590, "type": "quantitative", "axis": null}, "y2": {"datum": 2470}}},
{"data": {"values": [{}]}, "mark": {"type": "rule", "color": "#e8b040", "strokeWidth": 4},
 "encoding": {"x": {"datum": 2049.773, "type": "quantitative", "axis": null}, "y": {"datum": 2470, "type": "quantitative", "axis": null}, "y2": {"datum": 2370}}},
{"data": {"values": [{}]}, "mark": {"type": "rule", "color": "#5cbf8c", "strokeWidth": 4},
 "encoding": {"x": {"datum": 2049.773, "type": "quantitative", "axis": null}, "y": {"datum": 2370, "type": "quantitative", "axis": null}, "y2": {"datum": 2260}}},
{"data": {"values": [{}]}, "mark": {"type": "point", "shape": "circle", "filled": true, "size": 120, "color": "#5cbf8c", "stroke": "#aaaaaa", "strokeWidth": 1.5, "opacity": 1},
 "encoding": {"x": {"datum": 2049.773, "type": "quantitative", "axis": null}, "y": {"datum": 2234.6, "type": "quantitative", "axis": null}}},
{"data": {"values": [{"t": "Climate"}]}, "mark": {"type": "text", "align": "left", "fontSize": 10.5, "color": "#5aaad6"},
 "encoding": {"x": {"datum": 2051.067, "type": "quantitative", "axis": null}, "y": {"datum": 2550, "type": "quantitative", "axis": null}, "text": {"field": "t"}}},
{"data": {"values": [{"t": "Action"}]}, "mark": {"type": "text", "align": "left", "fontSize": 10.5, "fontWeight": "bold", "color": "#3d8fc6"},
 "encoding": {"x": {"datum": 2051.067, "type": "quantitative", "axis": null}, "y": {"datum": 2364, "type": "quantitative", "axis": null}, "text": {"field": "t"}}},
{"data": {"values": [{"t": "Tracker"}]}, "mark": {"type": "text", "align": "left", "fontSize": 10.5, "fontWeight": "bold", "color": "#3d8fc6"},
 "encoding": {"x": {"datum": 2051.067, "type": "quantitative", "axis": null}, "y": {"datum": 2178, "type": "quantitative", "axis": null}, "text": {"field": "t"}}}
]
}
],
"spacing": 8,
"bounds": "flush"
},
{
"width": 878, "height": 16,
"data": {"values": [{"t": "✣  Modelled domestic pathways reflects a global economic efficiency perspective with pathways for different temperature ranges derived from global least-cost models"}]},
"mark": {"type": "text", "fontSize": 11.5, "color": "#555555"},
"encoding": {"text": {"field": "t"}}
}
]
}
